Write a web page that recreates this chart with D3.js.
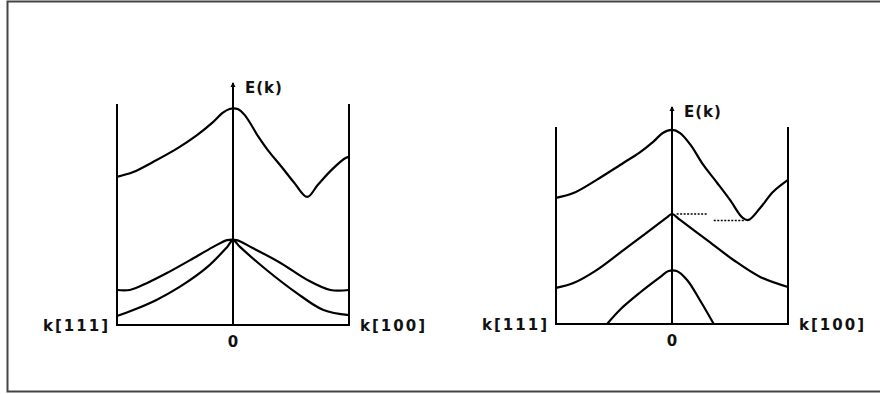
<!DOCTYPE html>
<html>
<head>
<meta charset="utf-8">
<script src="https://cdn.jsdelivr.net/npm/d3@7"></script>
<style>
  body { margin: 0; background: #fff; }
  text { font-family: "DejaVu Sans", sans-serif; font-size: 15px; font-weight: bold; fill: #111; }
</style>
</head>
<body>
<div id="chart"></div>
<script>
// k runs from -1 (k[111]) to +1 (k[100]), E in arbitrary energy units
let axisLabels = {left: "k[111]", right: "k[100]", origin: "0", energy: "E(k)"};

// left panel bands
let leftUpperK = [-1, -0.86, -0.69, -0.48, -0.31, -0.17, -0.09, -0.03, 0.04, 0.10, 0.22, 0.30, 0.42, 0.53, 0.64, 0.73, 0.85, 0.97, 1];
let leftUpperE = [67.3, 69.5, 74.1, 80.3, 86.3, 92.3, 96.4, 98.2, 98.2, 95.5, 85.5, 79.5, 71.8, 64.5, 58.2, 63.6, 70.5, 75.9, 76.4];
let leftLightK = [-1, -0.89, -0.74, -0.57, -0.37, -0.17, -0.05, 0.03, 0.17, 0.41, 0.64, 0.84, 1];
let leftLightE = [15.9, 15.9, 19.1, 23.6, 29.5, 35.5, 38.6, 38.6, 35, 28.2, 20.5, 15.9, 15.9];
let leftHeavyK = [-1, -0.86, -0.66, -0.46, -0.22, -0.05, 0, 0.06, 0.29, 0.55, 0.78, 1];
let leftHeavyE = [4.1, 6.8, 11.4, 17.3, 26.4, 35.5, 38.6, 35.5, 25, 14.5, 6.8, 4.5];

// right panel bands
let rightUpperK = [-1, -0.85, -0.65, -0.42, -0.28, -0.16, -0.08, 0, 0.07, 0.16, 0.27, 0.39, 0.5, 0.61, 0.66, 0.76, 0.87, 1];
let rightUpperE = [57.3, 59.5, 65.5, 73.2, 77.9, 82.9, 86.8, 88.2, 86.8, 81.4, 72.3, 64.1, 56.4, 48.2, 47.3, 52.7, 60, 65.5];
let rightMiddleK = [-1, -0.85, -0.65, -0.45, -0.22, -0.04, 0, 0.07, 0.3, 0.53, 0.76, 1];
let rightMiddleE = [16.4, 18.6, 24.5, 32.3, 41.4, 48.6, 50, 47.3, 38.2, 29.1, 21.4, 16.8];
let rightLowerK = [-0.56, -0.45, -0.28, -0.1, -0.03, 0.04, 0.13, 0.24, 0.36];
let rightLowerE = [0, 6.4, 14.1, 21.4, 24.1, 24.1, 20, 10.9, 0];

// dotted guides in the right panel: [k0, k1, E]
let rightGuides = [[0.04, 0.31, 50], [0.36, 0.63, 47]];

function zip(ks, es) {
    return ks.map(function (k, i) { return {k: k, e: es[i]}; });
}

let panels = [
    {x0: 117, x1: 349, base: 325, wallTop: 100.5, axisTop: 110,
     bands: [zip(leftUpperK, leftUpperE), zip(leftLightK, leftLightE), zip(leftHeavyK, leftHeavyE)],
     guides: []},
    {x0: 556, x1: 788, base: 324, wallTop: 89.5, axisTop: 98.6,
     bands: [zip(rightUpperK, rightUpperE), zip(rightMiddleK, rightMiddleE), zip(rightLowerK, rightLowerE)],
     guides: rightGuides}
];

let svg = d3.select("#chart")
    .append("svg")
    .attr("width", 880)
    .attr("height", 394);

// frame (open on the right side)
svg.append("path")
    .attr("d", "M890,1.5 H7.5 V391.5 H890")
    .attr("fill", "none")
    .attr("stroke", "#444")
    .attr("stroke-width", 2);

panels.forEach(function (p) {
    let x = d3.scaleLinear().domain([-1, 1]).range([p.x0, p.x1]);
    let y = d3.scaleLinear().domain([0, 100]).range([p.base, p.base - 220]);
    let g = svg.append("g");

    let frame = d3.line()
        .x(function (d) { return x(d.k); })
        .y(function (d) { return y(d.e); });
    let line = d3.line()
        .x(function (d) { return x(d.k); })
        .y(function (d) { return y(d.e); })
        .curve(d3.curveCatmullRom.alpha(0.5));

    // walls + baseline
    g.append("path")
        .attr("d", frame([{k: -1, e: p.wallTop}, {k: -1, e: 0}, {k: 1, e: 0}, {k: 1, e: p.wallTop}]))
        .attr("fill", "none")
        .attr("stroke", "#000")
        .attr("stroke-width", 2);

    // energy axis with small arrow
    g.append("line")
        .attr("x1", x(0)).attr("x2", x(0))
        .attr("y1", y(0)).attr("y2", y(p.axisTop))
        .attr("stroke", "#000")
        .attr("stroke-width", 2);
    g.append("path")
        .attr("d", "M" + (x(0) - 2.5) + "," + (y(p.axisTop) + 4) + " L" + x(0) + "," + (y(p.axisTop) - 1) + " L" + (x(0) + 2.5) + "," + (y(p.axisTop) + 4) + "Z")
        .attr("fill", "#000");

    g.selectAll(".band")
        .data(p.bands)
        .enter()
        .append("path")
        .attr("class", "band")
        .attr("d", function (d) { return line(d); })
        .attr("fill", "none")
        .attr("stroke", "#000")
        .attr("stroke-width", 2.2)
        .attr("stroke-linejoin", "round");

    g.selectAll(".guide")
        .data(p.guides)
        .enter()
        .append("line")
        .attr("class", "guide")
        .attr("x1", function (d) { return x(d[0]); })
        .attr("x2", function (d) { return x(d[1]); })
        .attr("y1", function (d) { return y(d[2]); })
        .attr("y2", function (d) { return y(d[2]); })
        .attr("stroke", "#000")
        .attr("stroke-width", 1.5)
        .attr("stroke-dasharray", "2,1.5");

    g.append("text")
        .attr("x", x(-1) - 7)
        .attr("y", y(0) + 6)
        .attr("text-anchor", "end")
        .style("letter-spacing", "2px")
        .text(axisLabels.left);
    g.append("text")
        .attr("x", x(1) + 11)
        .attr("y", y(0) + 6)
        .style("letter-spacing", "2px")
        .text(axisLabels.right);
    g.append("text")
        .attr("x", x(0))
        .attr("y", y(0) + 22)
        .attr("text-anchor", "middle")
        .text(axisLabels.origin);
    g.append("text")
        .attr("x", x(0) + 12)
        .attr("y", y(p.axisTop) + 10)
        .style("letter-spacing", "1px")
        .text(axisLabels.energy);
});
</script>
</body>
</html>
